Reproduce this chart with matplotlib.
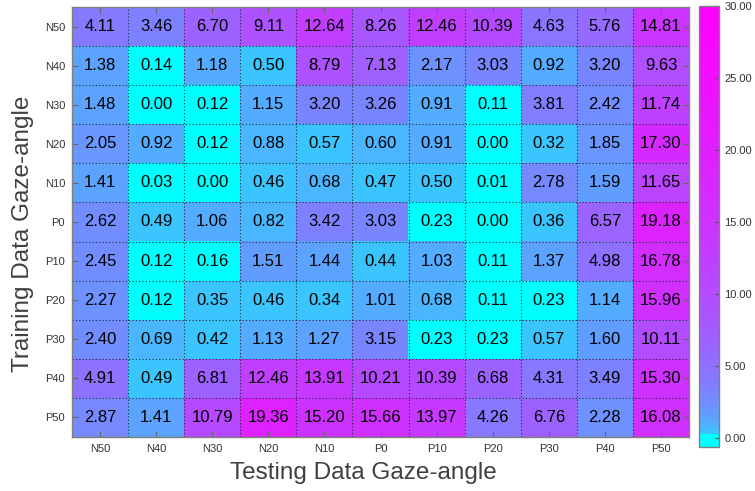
import numpy as np
import matplotlib
matplotlib.use("Agg")
import matplotlib.pyplot as plt
from matplotlib.colors import ListedColormap, Normalize

test_angles = ["N50", "N40", "N30", "N20", "N10", "P0", "P10", "P20", "P30", "P40", "P50"]
train_angles = ["N50", "N40", "N30", "N20", "N10", "P0", "P10", "P20", "P30", "P40", "P50"]

row_N50 = [4.11, 3.46, 6.70, 9.11, 12.64, 8.26, 12.46, 10.39, 4.63, 5.76, 14.81]
row_N40 = [1.38, 0.14, 1.18, 0.50, 8.79, 7.13, 2.17, 3.03, 0.92, 3.20, 9.63]
row_N30 = [1.48, 0.00, 0.12, 1.15, 3.20, 3.26, 0.91, 0.11, 3.81, 2.42, 11.74]
row_N20 = [2.05, 0.92, 0.12, 0.88, 0.57, 0.60, 0.91, 0.00, 0.32, 1.85, 17.30]
row_N10 = [1.41, 0.03, 0.00, 0.46, 0.68, 0.47, 0.50, 0.01, 2.78, 1.59, 11.65]
row_P0 = [2.62, 0.49, 1.06, 0.82, 3.42, 3.03, 0.23, 0.00, 0.36, 6.57, 19.18]
row_P10 = [2.45, 0.12, 0.16, 1.51, 1.44, 0.44, 1.03, 0.11, 1.37, 4.98, 16.78]
row_P20 = [2.27, 0.12, 0.35, 0.46, 0.34, 1.01, 0.68, 0.11, 0.23, 1.14, 15.96]
row_P30 = [2.40, 0.69, 0.42, 1.13, 1.27, 3.15, 0.23, 0.23, 0.57, 1.60, 10.11]
row_P40 = [4.91, 0.49, 6.81, 12.46, 13.91, 10.21, 10.39, 6.68, 4.31, 3.49, 15.30]
row_P50 = [2.87, 1.41, 10.79, 19.36, 15.20, 15.66, 13.97, 4.26, 6.76, 2.28, 16.08]

cbar_ticks = [0, 5, 10, 15, 20, 25, 30]

errors = np.array([row_N50, row_N40, row_N30, row_N20, row_N10, row_P0,
                   row_P10, row_P20, row_P30, row_P40, row_P50])

plt.rcParams["font.family"] = ["Liberation Sans", "DejaVu Sans"]

fig = plt.figure(figsize=(7.55, 4.91), dpi=100)
ax = fig.add_axes([72 / 755, 1 - 437 / 491, 617 / 755, 430 / 491])
cax = fig.add_axes([699 / 755, 1 - 447 / 491, 20 / 755, 441 / 491])

# stepped, non-linear "cool" colormap
vmin, vmax = -0.6, 30.0
nlev = 102
lower_edges = np.linspace(vmin, vmax, nlev + 1)[:-1]
tvals = (np.clip(lower_edges + 1e-9, 0, None) / vmax) ** 0.32
tvals[lower_edges < 0.29] = 0.0
cmap = ListedColormap(plt.get_cmap("cool")(tvals))
norm = Normalize(vmin=vmin, vmax=vmax)

im = ax.imshow(errors, cmap=cmap, norm=norm, aspect="auto", interpolation="nearest")

n = len(test_angles)
for i in range(n):
    for j in range(n):
        ax.text(j, i, f"{errors[i, j]:.2f}", ha="center", va="center",
                fontsize=12, color="black")

ax.set_xticks(range(n))
ax.set_xticklabels(test_angles)
ax.set_yticks(range(n))
ax.set_yticklabels(train_angles)
ax.set_xticks(np.arange(-0.5, n, 1), minor=True)
ax.set_yticks(np.arange(-0.5, n, 1), minor=True)
ax.grid(which="minor", linestyle=(0, (1, 2)), color="#1c2c3c", linewidth=0.8)
ax.grid(which="major", visible=False)
ax.tick_params(which="minor", length=0)
ax.tick_params(which="major", direction="in", length=4, width=0.8, color="#666666",
               top=True, right=True, labelsize=8, labelcolor="#333333", pad=5)
for s in ax.spines.values():
    s.set_color("#808080")
    s.set_linewidth(1.0)

ax.set_xlabel("Testing Data Gaze-angle", fontsize=17.5, color="#404040")
ax.set_ylabel("Training Data Gaze-angle", fontsize=17.5, color="#404040")
ax.xaxis.set_label_coords(0.473, -0.058)
ax.yaxis.set_label_coords(-0.062, 0.472)

cb = fig.colorbar(im, cax=cax, ticks=cbar_ticks, format="%.2f")
cb.outline.set_edgecolor("#808080")
cb.outline.set_linewidth(1.0)
cax.tick_params(direction="in", length=3, width=0.8, color="#555555",
                labelsize=8, labelcolor="#333333", pad=4)

fig.savefig("out.png", dpi=100)
